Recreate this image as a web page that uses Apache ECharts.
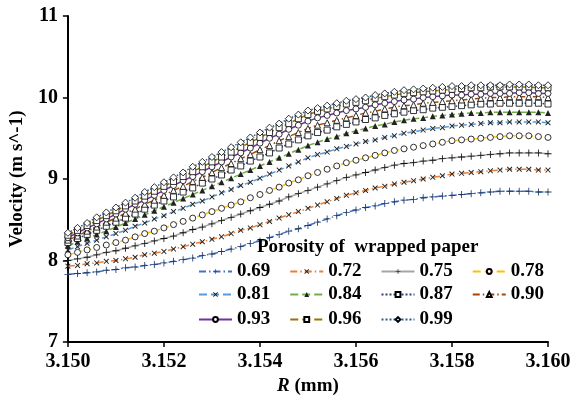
<!DOCTYPE html>
<html>
<head>
<meta charset="utf-8">
<script src="https://cdn.jsdelivr.net/npm/echarts@6/dist/echarts.min.js"></script>
<style>html,body{margin:0;padding:0;background:#fff;}#c{width:576px;height:401px;}</style>
</head>
<body>
<div id="c"></div>
<script>
// R values (mm), step 0.0002
const rValues = [];
for (let i = 0; i <= 50; i++) rValues.push(+(3.150 + i * 0.0002).toFixed(4));

const names = ['0.69','0.72','0.75','0.78','0.81','0.84','0.87','0.90','0.93','0.96','0.99'];
const xTicks = ['3.150','3.152','3.154','3.156','3.158','3.160'];
const yTicks = [7, 8, 9, 10, 11];

const v069 = [7.83,7.84,7.85,7.86,7.88, 7.89,7.91,7.92,7.94,7.95, 7.97,7.99,8.01,8.03,8.06, 8.08,8.11,8.14,8.17,8.21, 8.24,8.28,8.32,8.36,8.39, 8.43,8.47,8.51,8.55,8.59, 8.62,8.65,8.67,8.70,8.72, 8.74,8.75,8.77,8.78,8.79, 8.80,8.81,8.82,8.83,8.84, 8.85,8.85,8.85,8.85,8.84, 8.84];
const v072 = [7.93,7.94,7.96,7.97,7.99, 8.00,8.02,8.04,8.07,8.09, 8.11,8.14,8.17,8.20,8.23, 8.26,8.29,8.33,8.37,8.40, 8.44,8.48,8.52,8.56,8.60, 8.64,8.68,8.72,8.76,8.80, 8.83,8.86,8.89,8.91,8.94, 8.96,8.98,9.00,9.02,9.04, 9.06,9.07,9.08,9.09,9.10, 9.11,9.12,9.12,9.12,9.11, 9.11];
const v075 = [8.00,8.02,8.04,8.07,8.10, 8.12,8.15,8.18,8.21,8.24, 8.27,8.30,8.34,8.38,8.41, 8.45,8.49,8.53,8.57,8.61, 8.65,8.69,8.73,8.78,8.82, 8.86,8.90,8.94,8.98,9.02, 9.05,9.08,9.11,9.14,9.17, 9.19,9.20,9.22,9.23,9.25, 9.26,9.27,9.28,9.29,9.30, 9.31,9.32,9.32,9.32,9.32, 9.31];
const v078 = [8.07,8.10,8.13,8.16,8.19, 8.22,8.25,8.29,8.33,8.36, 8.40,8.44,8.48,8.52,8.56, 8.60,8.64,8.68,8.72,8.77, 8.81,8.86,8.90,8.95,8.99, 9.04,9.08,9.12,9.16,9.20, 9.23,9.26,9.29,9.32,9.35, 9.37,9.39,9.41,9.43,9.45, 9.47,9.48,9.49,9.50,9.51, 9.52,9.53,9.53,9.53,9.52, 9.51];
const v081 = [8.13,8.17,8.21,8.25,8.29, 8.33,8.37,8.42,8.46,8.51, 8.55,8.60,8.64,8.69,8.73, 8.78,8.83,8.87,8.92,8.96, 9.01,9.06,9.11,9.16,9.21, 9.26,9.30,9.33,9.37,9.40, 9.43,9.46,9.48,9.51,9.53, 9.56,9.58,9.60,9.62,9.63, 9.65,9.66,9.67,9.68,9.69, 9.69,9.70,9.70,9.70,9.70, 9.69];
const v084 = [8.18,8.23,8.27,8.32,8.36, 8.41,8.46,8.51,8.56,8.61, 8.66,8.71,8.76,8.81,8.86, 8.91,8.96,9.01,9.06,9.11, 9.16,9.21,9.26,9.31,9.36, 9.41,9.45,9.49,9.52,9.56, 9.59,9.62,9.65,9.67,9.70, 9.72,9.74,9.75,9.77,9.78, 9.79,9.80,9.81,9.81,9.82, 9.82,9.82,9.82,9.82,9.82, 9.81];
const v087 = [8.22,8.27,8.32,8.37,8.42, 8.47,8.52,8.57,8.63,8.68, 8.73,8.78,8.84,8.89,8.95, 9.00,9.05,9.11,9.16,9.22, 9.27,9.32,9.38,9.43,9.48, 9.53,9.57,9.60,9.64,9.67, 9.70,9.73,9.75,9.78,9.80, 9.82,9.84,9.85,9.87,9.88, 9.89,9.90,9.91,9.92,9.92, 9.93,9.93,9.93,9.93,9.93, 9.92];
const v090 = [8.25,8.30,8.36,8.41,8.47, 8.52,8.58,8.63,8.69,8.74, 8.80,8.86,8.91,8.97,9.02, 9.08,9.14,9.19,9.25,9.30, 9.36,9.41,9.47,9.52,9.57, 9.62,9.66,9.69,9.72,9.75, 9.78,9.81,9.83,9.86,9.88, 9.90,9.91,9.93,9.94,9.95, 9.96,9.97,9.98,9.99,10.00, 10.00,10.01,10.01,10.01,10.01, 10.00];
const v093 = [8.28,8.34,8.40,8.45,8.51, 8.57,8.63,8.69,8.74,8.80, 8.86,8.92,8.98,9.03,9.09, 9.15,9.21,9.27,9.32,9.38, 9.44,9.50,9.55,9.61,9.66, 9.71,9.75,9.78,9.81,9.84, 9.86,9.88,9.91,9.93,9.95, 9.97,9.98,10.00,10.01,10.02, 10.03,10.03,10.04,10.04,10.05, 10.05,10.05,10.06,10.06,10.05, 10.05];
const v096 = [8.31,8.37,8.43,8.49,8.55, 8.61,8.67,8.73,8.79,8.85, 8.91,8.97,9.03,9.09,9.15, 9.21,9.27,9.33,9.39,9.45, 9.51,9.57,9.63,9.68,9.74, 9.79,9.83,9.86,9.89,9.92, 9.94,9.96,9.99,10.01,10.03, 10.05,10.06,10.07,10.08,10.09, 10.10,10.11,10.12,10.12,10.13, 10.13,10.13,10.13,10.13,10.12, 10.12];
const v099 = [8.34,8.40,8.46,8.53,8.59, 8.65,8.71,8.77,8.84,8.90, 8.96,9.02,9.08,9.15,9.21, 9.27,9.33,9.39,9.45,9.51, 9.57,9.63,9.68,9.74,9.79, 9.84,9.87,9.90,9.93,9.96, 9.98,10.00,10.03,10.05,10.07, 10.09,10.10,10.11,10.12,10.13, 10.14,10.14,10.15,10.15,10.15, 10.15,10.16,10.16,10.16,10.15, 10.15];

const seriesValues = [v069,v072,v075,v078,v081,v084,v087,v090,v093,v096,v099];

const PLUS = 'path://M0,4.4H10V5.6H0Z M4.4,0H5.6V10H4.4Z';
const CROSS = 'path://M0,1.2L1.2,0L10,8.8L8.8,10Z M8.8,0L10,1.2L1.2,10L0,8.8Z';
const DASHDOT = [7, 3, 1.5, 3];

const styles = [
  {color:'#4472C4', type:DASHDOT, symbol:PLUS, size:7, fill:'#1F3864', border:null},
  {color:'#ED7D31', type:DASHDOT, symbol:CROSS, size:5.5, fill:'#222', border:null},
  {color:'#A5A5A5', type:'solid', symbol:PLUS, size:7, fill:'#111', border:null},
  {color:'#FFC000', type:'dashed', symbol:'circle', size:6, fill:'#fff', border:'#000'},
  {color:'#5B9BD5', type:'dashed', symbol:CROSS, size:5.5, fill:'#222', border:null},
  {color:'#70AD47', type:'dashed', symbol:'triangle', size:6, fill:'#222', border:null},
  {color:'#264478', type:'dotted', symbol:'rect', size:6, fill:'#fff', border:'#000'},
  {color:'#9E480E', type:DASHDOT, symbol:'triangle', size:6, fill:'#fff', border:'#000'},
  {color:'#7030A0', type:'solid', symbol:'circle', size:6, fill:'#fff', border:'#000'},
  {color:'#997300', type:'dashed', symbol:'rect', size:6, fill:'#fff', border:'#000'},
  {color:'#255E91', type:'dotted', symbol:'diamond', size:7, fill:'#fff', border:'#000'}
];

const FONT = '"Liberation Serif", "Times New Roman", serif';

const series = names.map((n, i) => {
  const s = styles[i];
  return {
    name: n,
    type: 'line',
    data: rValues.map((r, j) => [r, seriesValues[i][j]]),
    symbol: s.symbol,
    symbolSize: s.size,
    showAllSymbol: true,
    lineStyle: {color: s.color, width: 1.5, type: s.type},
    itemStyle: {color: s.fill, borderColor: s.border || s.fill, borderWidth: s.border ? 0.8 : 0},
    emphasis: {disabled: true},
    z: 2 + i
  };
});

const legendBase = {
  itemWidth: 33, itemHeight: 6, itemGap: 19, padding: 0,
  textStyle: {fontFamily: FONT, fontWeight: 'bold', fontSize: 19, color: '#000'},
  selectedMode: false
};

const chart = echarts.init(document.getElementById('c'), null, {renderer: 'canvas'});
chart.setOption({
  animation: false,
  backgroundColor: '#fff',
  title: {
    text: 'Porosity of  wrapped paper',
    left: 257, top: 238, padding: 0,
    textStyle: {fontFamily: FONT, fontWeight: 'bold', fontSize: 19, color: '#000'}
  },
  legend: [
    Object.assign({}, legendBase, {data: names.slice(0, 4), left: 198, top: 262}),
    Object.assign({}, legendBase, {data: names.slice(4, 8), left: 198, top: 285}),
    Object.assign({}, legendBase, {data: names.slice(8), left: 198, top: 310})
  ],
  grid: {left: 67, right: 28, top: 16, bottom: 59, containLabel: false},
  xAxis: {
    type: 'value', min: 3.150, max: 3.160, interval: 0.002,
    name: '{i|R} (mm)', nameLocation: 'middle', nameGap: 30,
    nameTextStyle: {fontFamily: FONT, fontWeight: 'bold', fontSize: 19, color: '#000',
      rich: {i: {fontFamily: FONT, fontWeight: 'bold', fontStyle: 'italic', fontSize: 19, color: '#000'}}},
    axisLine: {lineStyle: {color: '#000', width: 2}},
    axisTick: {show: true, inside: false, length: 5, lineStyle: {color: '#000', width: 1.5}},
    splitLine: {show: false},
    axisLabel: {fontFamily: FONT, fontWeight: 'bold', fontSize: 20, color: '#000', margin: 10,
      formatter: v => xTicks.find(t => Math.abs(parseFloat(t) - v) < 1e-7) || ''}
  },
  yAxis: {
    type: 'value', min: 7, max: 11, interval: 1,
    name: 'Velocity (m s^-1)', nameLocation: 'middle', nameGap: 40,
    nameTextStyle: {fontFamily: FONT, fontWeight: 'bold', fontSize: 19, color: '#000'},
    axisLine: {show: true, lineStyle: {color: '#000', width: 2}},
    axisTick: {show: true, inside: false, length: 5, lineStyle: {color: '#000', width: 1.5}},
    splitLine: {show: false},
    axisLabel: {fontFamily: FONT, fontWeight: 'bold', fontSize: 20, color: '#000', margin: 10,
      formatter: v => (yTicks.indexOf(v) >= 0 ? String(v) : '')}
  },
  series: series
});
</script>
</body>
</html>
